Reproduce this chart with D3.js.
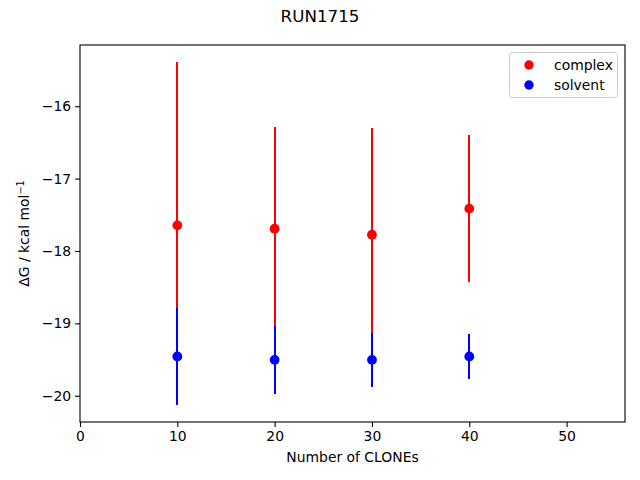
<!DOCTYPE html>
<html><head><meta charset="utf-8">
<script src="https://cdn.jsdelivr.net/npm/d3@7"></script>
<style>body{margin:0;background:#fff}svg{display:block}text{font-family:"DejaVu Sans",sans-serif}</style>
</head><body>
<svg id="c" width="640" height="480"></svg>
<script>
const clones = [10, 20, 30, 40];
const complexMean = [-17.646, -17.692, -17.775, -17.415];
const complexErr = [2.255, 1.402, 1.471, 1.014];
const solventMean = [-19.458, -19.504, -19.504, -19.458];
const solventErr = [0.668, 0.468, 0.374, 0.316];
const xTicks = [0, 10, 20, 30, 40, 50];
const yTicks = [-16, -17, -18, -19, -20];
const legendLabels = ["complex", "solvent"];
const colors = ["#ff0000", "#0000ff"];

const svg = d3.select("#c");
const L = 80, R = 625, T = 45, B = 422;
const x = d3.scaleLinear().domain([0, 56]).range([L, R]);
const lo = d3.min(solventMean.map((m, i) => m - solventErr[i]).concat(complexMean.map((m, i) => m - complexErr[i])));
const hi = d3.max(complexMean.map((m, i) => m + complexErr[i]).concat(solventMean.map((m, i) => m + solventErr[i])));
const pad = (hi - lo) * 0.05;
const y = d3.scaleLinear().domain([lo - pad, hi + pad]).range([B, T]);

const fmt = d => d < 0 ? "\u2212" + Math.abs(d) : String(d);
const xAxis = svg.append("g").attr("transform", `translate(0,${B})`)
  .call(d3.axisBottom(x).tickValues(xTicks).tickFormat(fmt).tickSize(4.9).tickPadding(4));
const yAxis = svg.append("g").attr("transform", `translate(${L},0)`)
  .call(d3.axisLeft(y).tickValues(yTicks).tickFormat(fmt).tickSize(4.9).tickPadding(4));
[xAxis, yAxis].forEach(a => {
  a.select(".domain").remove();
  a.selectAll("line").attr("stroke", "#000").attr("stroke-width", 1.1);
  a.selectAll("text").attr("font-size", 13.9).attr("fill", "#000").attr("font-family", "DejaVu Sans");
});

// frame
svg.append("rect").attr("x", L).attr("y", T).attr("width", R - L).attr("height", B - T)
  .attr("fill", "none").attr("stroke", "#000").attr("stroke-width", 1.1);

const series = [[complexMean, complexErr], [solventMean, solventErr]];
series.forEach(([m, e], s) => {
  const g = svg.append("g");
  g.selectAll("line").data(clones).join("line")
    .attr("x1", d => Math.round(x(d))).attr("x2", d => Math.round(x(d)))
    .attr("y1", (d, i) => y(m[i] - e[i])).attr("y2", (d, i) => y(m[i] + e[i]))
    .attr("stroke", colors[s]).attr("stroke-width", 2).attr("shape-rendering", "crispEdges");
  g.selectAll("circle").data(clones).join("circle")
    .attr("cx", d => x(d)).attr("cy", (d, i) => y(m[i])).attr("r", 4.9)
    .attr("fill", colors[s]);
});

// legend
const lg = svg.append("g");
lg.append("rect").attr("x", 509.5).attr("y", 52.5).attr("width", 108).attr("height", 45).attr("rx", 3)
  .attr("fill", "#fff").attr("fill-opacity", 0.8).attr("stroke", "#cccccc").attr("stroke-width", 1);
legendLabels.forEach((t, i) => {
  lg.append("circle").attr("cx", 529).attr("cy", 65 + i * 20).attr("r", 4.7).attr("fill", colors[i]);
  lg.append("text").attr("x", 554).attr("y", 69.5 + i * 20).attr("font-size", 13.9).text(t);
});

svg.append("text").attr("x", 320).attr("y", 22).attr("text-anchor", "middle").attr("font-size", 16.7).text("RUN1715");
svg.append("text").attr("x", (L + R) / 2).attr("y", 462).attr("text-anchor", "middle").attr("font-size", 13.9).text("Number of CLONEs");
const yl = svg.append("text").attr("transform", `translate(29,${(T + B) / 2}) rotate(-90)`)
  .attr("text-anchor", "middle").attr("font-size", 13.9);
yl.append("tspan").text("\u0394G / kcal mol");
yl.append("tspan").attr("font-size", 9.7).attr("dy", -5).text("\u22121");
</script>
</body></html>
